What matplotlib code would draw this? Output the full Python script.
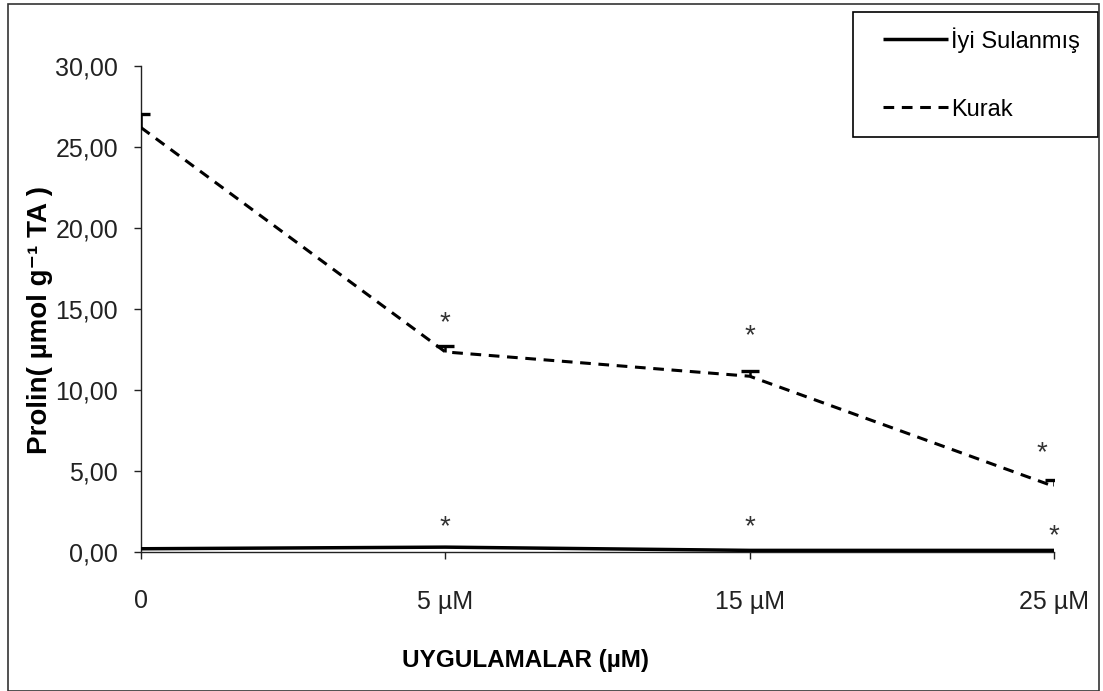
#!/usr/bin/env python3

"""Prolin content under well-watered and drought conditions."""

import matplotlib as mpl
import matplotlib.pyplot as plt
import numpy as np

mpl.use("Agg")
plt.rcParams["font.family"] = ["Liberation Sans", "DejaVu Sans"]

categories = ["0", "5 µM", "15 µM", "25 µM"]
iyi = [0.20, 0.30, 0.10, 0.10]
kurak = [26.20, 12.35, 10.85, 4.05]
kurak_err = [0.85, 0.35, 0.35, 0.40]

# significance marks (category index, value)
stars_kurak = [(1.0, 14.15), (2.0, 13.3), (2.96, 6.1)]
stars_iyi = [(1.0, 1.55), (2.0, 1.55), (3.0, 1.0)]

y_ticks = [0, 5, 10, 15, 20, 25, 30]


def main():
    W, H = 1103, 691
    fig = plt.figure(figsize=(W / 100, H / 100), dpi=100)
    ax = fig.add_axes([141 / W, 1 - 552 / H, 913 / W, 486 / H])

    x = np.arange(len(categories))

    ax.plot(x, iyi, color="black", lw=2.5, solid_capstyle="butt",
            label="İyi Sulanmış", zorder=3)
    ax.plot(x, kurak, color="black", lw=2.2, linestyle=(0, (3.5, 2.5)),
            label="Kurak", zorder=3)
    _, caps, _ = ax.errorbar(x, kurak, yerr=[np.zeros(len(x)), kurak_err],
                             fmt="none", ecolor="black", elinewidth=1.8,
                             capsize=6.5, capthick=2.4, zorder=4)
    caps[0].set_visible(False)

    for sx, sy in stars_kurak + stars_iyi:
        ax.text(sx, sy, "*", ha="center", va="center", fontsize=20,
                color="#333333")

    ax.set_xlim(0, 3)
    ax.set_ylim(0, 30)
    ax.set_xticks(x)
    ax.set_xticklabels(categories)
    ax.set_yticks(y_ticks)
    ax.set_yticklabels([f"{v:.2f}".replace(".", ",") for v in y_ticks])

    for side in ["top", "right"]:
        ax.spines[side].set_visible(False)
    for side in ["left", "bottom"]:
        ax.spines[side].set_linewidth(1.0)
        ax.spines[side].set_color("#222222")
    ax.tick_params(axis="y", direction="out", length=5, width=1.0,
                   pad=11.5, labelsize=18, colors="#222222")
    ax.tick_params(axis="x", direction="out", length=5, width=1.0,
                   pad=22, labelsize=18, colors="#222222")

    fig.text(40 / W, 1 - 320 / H, "Prolin( µmol g⁻¹ TA )", fontsize=20,
             fontweight="bold", rotation=90, ha="center", va="center")
    fig.text(526 / W, 1 - 660 / H, "UYGULAMALAR (µM)", fontsize=17.5,
             fontweight="bold", ha="center", va="center")

    # legend box drawn separately so the entries can sit inset
    box = plt.Rectangle((853 / W, 1 - 137 / H), 245 / W, 125 / H,
                        transform=fig.transFigure, fill=False,
                        edgecolor="black", lw=1.2)
    fig.patches.append(box)
    fig.legend(loc="upper left", bbox_to_anchor=(883 / W, 1 - 27 / H),
               fontsize=17, frameon=False, borderpad=0, borderaxespad=0,
               labelspacing=1.95, handlelength=2.75, handletextpad=0.12)

    # outer border
    border = plt.Rectangle((8 / W, 0.0), 1 - 12 / W, 1 - 4 / H,
                           transform=fig.transFigure, fill=False,
                           edgecolor="#333333", lw=1.2)
    fig.patches.append(border)

    fig.savefig("out.png", dpi=100)


if __name__ == "__main__":
    main()
